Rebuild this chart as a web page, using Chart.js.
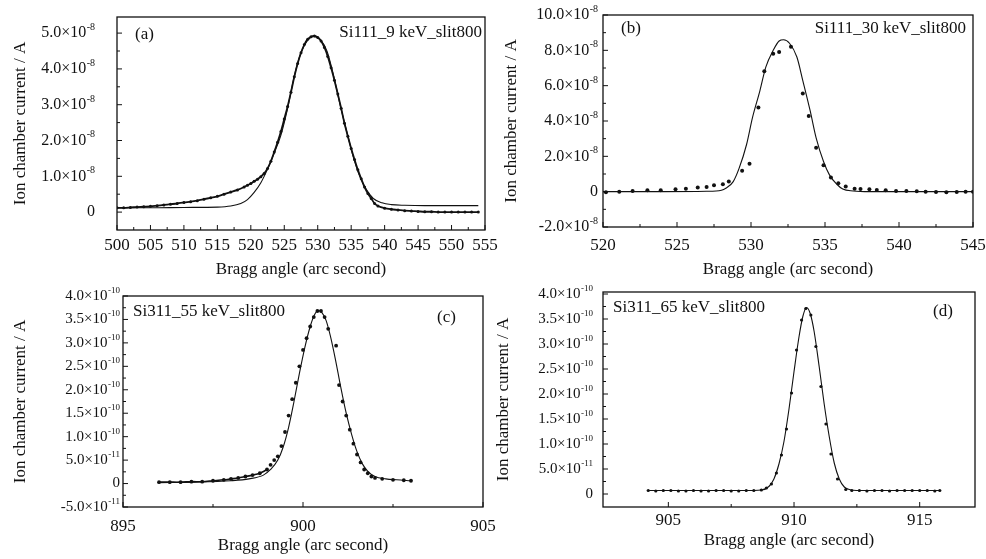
<!DOCTYPE html>
<html>
<head>
<meta charset="utf-8">
<script src="https://cdn.jsdelivr.net/npm/chart.js@4.4.1/dist/chart.umd.min.js"></script>
<style>
  html, body { margin: 0; padding: 0; background: #fff; }
  body { width: 986px; height: 559px; position: relative; overflow: hidden; }
  canvas { position: absolute; }
</style>
</head>
<body>
<canvas id="pa"></canvas>
<canvas id="pb"></canvas>
<canvas id="pc"></canvas>
<canvas id="pd"></canvas>
<script>
// ---------------- Panel (a): Si111_9 keV_slit800 (current in units of 1e-8 A) ----------------
const aXTicks = [500, 505, 510, 515, 520, 525, 530, 535, 540, 545, 550, 555];
const aXLabels = ["500", "505", "510", "515", "520", "525", "530", "535", "540", "545", "550", "555"];
const aYTicks = [0, 1, 2, 3, 4, 5];
const aYLabels = ["0", "1.0×10^-8", "2.0×10^-8", "3.0×10^-8", "4.0×10^-8", "5.0×10^-8"];
const aDataX = [500, 501, 502, 503, 504, 505, 506, 507, 508, 509, 510, 511, 512, 513, 514, 515, 516, 517, 518, 519, 519.5, 520, 520.5, 521, 521.5, 522, 522.5, 523, 523.5, 524, 524.5, 525, 525.5, 526, 526.5, 527, 527.5, 528, 528.5, 529, 529.5, 530, 530.5, 531, 531.5, 532, 532.5, 533, 533.5, 534, 534.5, 535, 535.5, 536, 536.5, 537, 537.5, 538, 538.5, 539, 540, 541, 542, 543, 544, 545, 546, 547, 548, 549, 550, 551, 552, 553, 554];
const aDataY = [0.12, 0.12, 0.13, 0.14, 0.15, 0.16, 0.18, 0.20, 0.22, 0.24, 0.27, 0.29, 0.32, 0.36, 0.40, 0.44, 0.50, 0.56, 0.62, 0.70, 0.75, 0.80, 0.86, 0.92, 0.99, 1.08, 1.22, 1.42, 1.68, 1.95, 2.25, 2.60, 2.95, 3.35, 3.78, 4.15, 4.45, 4.68, 4.83, 4.90, 4.92, 4.88, 4.78, 4.60, 4.35, 4.03, 3.68, 3.30, 2.90, 2.48, 2.12, 1.78, 1.47, 1.18, 0.93, 0.70, 0.52, 0.38, 0.24, 0.17, 0.11, 0.08, 0.06, 0.04, 0.03, 0.02, 0.01, 0.01, 0, 0, 0, 0, 0, 0, 0];
const aFitX = [500, 505, 510, 515, 517, 518.5, 519.5, 520.5, 521.5, 522.5, 523.5, 524.5, 525.5, 526.5, 527.5, 528.5, 529.4, 530.4, 531.4, 532.4, 533.4, 534.4, 535.3, 536.3, 537.3, 538.3, 539.6, 541, 543, 546, 550, 554];
const aFitY = [0.12, 0.12, 0.13, 0.14, 0.17, 0.24, 0.35, 0.55, 0.82, 1.20, 1.65, 2.15, 2.90, 3.80, 4.45, 4.80, 4.91, 4.82, 4.49, 3.79, 2.95, 2.20, 1.55, 0.99, 0.62, 0.38, 0.26, 0.21, 0.19, 0.18, 0.18, 0.18];

// ---------------- Panel (b): Si111_30 keV_slit800 (units of 1e-8 A) ----------------
const bXTicks = [520, 525, 530, 535, 540, 545];
const bXLabels = ["520", "525", "530", "535", "540", "545"];
const bYTicks = [-2, 0, 2, 4, 6, 8, 10];
const bYLabels = ["-2.0×10^-8", "0", "2.0×10^-8", "4.0×10^-8", "6.0×10^-8", "8.0×10^-8", "10.0×10^-8"];
const bDataX = [520.2, 521.1, 522, 523, 523.9, 524.9, 525.6, 526.4, 527, 527.5, 528.1, 528.5, 529.4, 529.9, 530.5, 530.9, 531.5, 531.9, 532.7, 533.5, 533.9, 534.4, 534.9, 535.4, 535.9, 536.4, 537, 537.4, 538, 538.5, 539.1, 539.8, 540.5, 541.2, 541.8, 542.5, 543.2, 543.9, 544.5, 545];
const bDataY = [-0.04, 0, 0.04, 0.08, 0.08, 0.13, 0.17, 0.23, 0.27, 0.36, 0.42, 0.57, 1.18, 1.58, 4.76, 6.82, 7.81, 7.90, 8.20, 5.56, 4.29, 2.48, 1.49, 0.80, 0.48, 0.29, 0.17, 0.15, 0.13, 0.10, 0.08, 0.04, 0.04, 0.02, 0, -0.02, -0.04, -0.02, 0, 0];
const bFitX = [520, 524, 527, 528, 528.3, 528.8, 529.2, 529.7, 530.1, 530.6, 531.0, 531.5, 531.9, 532.2, 532.6, 533.1, 533.5, 534.0, 534.4, 534.9, 535.3, 535.8, 536.2, 536.9, 538, 541, 545];
const bFitY = [0, 0, 0.02, 0.08, 0.19, 0.57, 1.33, 2.67, 4.19, 5.71, 7.05, 8.00, 8.53, 8.60, 8.40, 7.62, 6.29, 4.57, 3.05, 1.71, 0.95, 0.42, 0.15, 0.04, 0, 0, 0];

// ---------------- Panel (c): Si311_55 keV_slit800 (units of 1e-10 A) ----------------
const cXTicks = [895, 900, 905];
const cXLabels = ["895", "900", "905"];
const cYTicks = [-0.5, 0, 0.5, 1, 1.5, 2, 2.5, 3, 3.5, 4];
const cYLabels = ["-5.0×10^-11", "0", "5.0×10^-11", "1.0×10^-10", "1.5×10^-10", "2.0×10^-10", "2.5×10^-10", "3.0×10^-10", "3.5×10^-10", "4.0×10^-10"];
const cDataX = [896, 896.3, 896.6, 896.9, 897.2, 897.5, 897.8, 898.0, 898.2, 898.4, 898.6, 898.8, 899.0, 899.1, 899.2, 899.3, 899.4, 899.5, 899.6, 899.7, 899.8, 899.9, 900.0, 900.1, 900.2, 900.3, 900.4, 900.5, 900.6, 900.7, 900.92, 901.0, 901.1, 901.2, 901.3, 901.4, 901.5, 901.6, 901.7, 901.8, 901.9, 902.0, 902.2, 902.5, 902.8, 903];
const cDataY = [0.03, 0.03, 0.03, 0.04, 0.04, 0.06, 0.08, 0.10, 0.12, 0.15, 0.18, 0.22, 0.30, 0.40, 0.50, 0.58, 0.80, 1.10, 1.45, 1.80, 2.15, 2.50, 2.85, 3.10, 3.35, 3.55, 3.68, 3.68, 3.55, 3.30, 2.94, 2.10, 1.75, 1.45, 1.15, 0.85, 0.62, 0.45, 0.30, 0.22, 0.15, 0.12, 0.10, 0.08, 0.07, 0.06];
const cFitX = [896, 897, 898, 898.5, 898.9, 899.1, 899.3, 899.45, 899.6, 899.75, 899.9, 900.05, 900.2, 900.32, 900.42, 900.52, 900.64, 900.76, 900.9, 901.05, 901.2, 901.35, 901.5, 901.65, 901.8, 902, 902.3, 902.6, 903];
const cFitY = [0.02, 0.03, 0.06, 0.10, 0.18, 0.30, 0.50, 0.78, 1.20, 1.75, 2.35, 2.90, 3.35, 3.60, 3.69, 3.65, 3.48, 3.15, 2.65, 2.05, 1.50, 1.05, 0.68, 0.42, 0.26, 0.15, 0.10, 0.08, 0.06];

// ---------------- Panel (d): Si311_65 keV_slit800 (units of 1e-10 A) ----------------
const dXTicks = [905, 910, 915];
const dXLabels = ["905", "910", "915"];
const dYTicks = [0, 0.5, 1, 1.5, 2, 2.5, 3, 3.5, 4];
const dYLabels = ["0", "5.0×10^-11", "1.0×10^-10", "1.5×10^-10", "2.0×10^-10", "2.5×10^-10", "3.0×10^-10", "3.5×10^-10", "4.0×10^-10"];
const dDataX = [904.2, 904.5, 904.8, 905.1, 905.4, 905.7, 906.0, 906.3, 906.6, 906.9, 907.2, 907.5, 907.8, 908.1, 908.4, 908.7, 908.9, 909.1, 909.3, 909.5, 909.7, 909.9, 910.1, 910.3, 910.47, 910.67, 910.87, 911.07, 911.27, 911.47, 911.73, 912.06, 912.3, 912.6, 912.9, 913.2, 913.5, 913.8, 914.1, 914.4, 914.7, 915.0, 915.3, 915.6, 915.8];
const dDataY = [0.07, 0.06, 0.07, 0.07, 0.06, 0.06, 0.07, 0.06, 0.06, 0.07, 0.07, 0.06, 0.06, 0.07, 0.07, 0.08, 0.12, 0.20, 0.42, 0.78, 1.30, 2.02, 2.88, 3.48, 3.71, 3.58, 2.95, 2.15, 1.40, 0.80, 0.30, 0.09, 0.07, 0.07, 0.06, 0.07, 0.07, 0.06, 0.07, 0.07, 0.07, 0.07, 0.07, 0.06, 0.07];
const dFitX = [904.2, 906, 908, 908.7, 909.0, 909.2, 909.4, 909.6, 909.8, 910.0, 910.2, 910.35, 910.5, 910.65, 910.8, 911.0, 911.2, 911.4, 911.6, 911.8, 912.0, 912.2, 912.6, 914, 915.8];
const dFitY = [0.07, 0.07, 0.07, 0.08, 0.15, 0.30, 0.60, 1.05, 1.70, 2.45, 3.15, 3.55, 3.73, 3.60, 3.25, 2.55, 1.80, 1.15, 0.62, 0.30, 0.14, 0.09, 0.07, 0.07, 0.07];

const yTitle = "Ion chamber current / A";
const xTitle = "Bragg angle (arc second)";
const INK = "#111";
const SERIF = "'Liberation Serif', 'Times New Roman', serif";

// frame, inward ticks, y tick labels with superscript exponents, panel notes
const framePlugin = {
  id: 'framePlugin',
  afterDraw(chart) {
    const o = chart.options.plugins.framePlugin;
    const {ctx, chartArea: a, scales: {x, y}} = chart;
    ctx.save();
    ctx.strokeStyle = INK;
    ctx.lineWidth = 1.3;
    ctx.strokeRect(a.left, a.top, a.right - a.left, a.bottom - a.top);
    ctx.lineWidth = 1;
    const yv = y.ticks.map(t => t.value);
    const xv = x.ticks.map(t => t.value);
    ctx.beginPath();
    yv.forEach((v, i) => {
      const p = y.getPixelForValue(v);
      ctx.moveTo(a.left, p); ctx.lineTo(a.left + 5, p);
      if (i < yv.length - 1) {
        const q = y.getPixelForValue((v + yv[i + 1]) / 2);
        ctx.moveTo(a.left, q); ctx.lineTo(a.left + 3, q);
      }
    });
    xv.forEach((v, i) => {
      const p = x.getPixelForValue(v);
      ctx.moveTo(p, a.bottom); ctx.lineTo(p, a.bottom - 5);
      if (i < xv.length - 1) {
        const q = x.getPixelForValue((v + xv[i + 1]) / 2);
        ctx.moveTo(q, a.bottom); ctx.lineTo(q, a.bottom - 3);
      }
    });
    ctx.stroke();
    ctx.fillStyle = INK;
    const S = o.ySize, E = Math.round(S * 0.62);
    const right = a.left - o.yPad;
    ctx.textBaseline = 'middle';
    ctx.textAlign = 'left';
    yv.forEach((v, i) => {
      const p = y.getPixelForValue(v);
      const parts = o.yLabels[i].split('^');
      ctx.font = S + "px " + SERIF;
      const w1 = ctx.measureText(parts[0]).width;
      let w2 = 0;
      if (parts[1]) { ctx.font = E + "px " + SERIF; w2 = ctx.measureText(parts[1]).width; }
      const x0 = right - w1 - w2 - (parts[1] ? 0.5 : 0);
      ctx.font = S + "px " + SERIF;
      ctx.fillText(parts[0], x0, p);
      if (parts[1]) {
        ctx.font = E + "px " + SERIF;
        ctx.fillText(parts[1], x0 + w1 + 0.5, p - S * 0.36);
      }
    });
    (o.notes || []).forEach(n => {
      ctx.font = n.size + "px " + SERIF;
      ctx.textAlign = n.align;
      ctx.fillText(n.text, n.x, n.y);
    });
    ctx.restore();
  }
};

function pts(xs, ys) { return xs.map((v, i) => ({x: v, y: ys[i]})); }

function makePanel(id, c) {
  const cv = document.getElementById(id);
  cv.width = c.w; cv.height = c.h;
  cv.style.left = c.left + "px"; cv.style.top = c.top + "px";
  cv.style.width = c.w + "px"; cv.style.height = c.h + "px";
  const lineUntil = (c.lineUntil === undefined) ? Infinity : c.lineUntil;
  new Chart(cv, {
    type: 'scatter',
    data: {
      datasets: [
        {
          label: 'measured', data: pts(c.dx, c.dy),
          showLine: c.dataLine, borderColor: INK, borderWidth: c.dataLineWidth || 1.6,
          segment: { borderColor: s => (s.p1.parsed.x > lineUntil ? 'rgba(0,0,0,0)' : INK) },
          backgroundColor: INK, pointRadius: c.pr, pointBorderWidth: 0, pointBackgroundColor: INK,
          tension: 0.3, order: 2
        },
        {
          label: 'fit', data: pts(c.fx, c.fy),
          showLine: true, borderColor: INK, borderWidth: c.fitWidth || 1.1,
          pointRadius: 0, cubicInterpolationMode: 'monotone', order: 1
        }
      ]
    },
    options: {
      responsive: false, animation: false, events: [],
      layout: { padding: { left: 0, top: c.padTop, right: c.padRight, bottom: 0 } },
      plugins: {
        legend: { display: false }, tooltip: { enabled: false },
        framePlugin: { notes: c.notes, yLabels: c.yLabels, ySize: c.yTickSize, yPad: c.yTickPad }
      },
      scales: {
        x: {
          type: 'linear', min: c.xMin, max: c.xMax,
          grid: { display: false, drawTicks: false }, border: { display: false },
          afterBuildTicks: s => { s.ticks = c.xTicks.map(v => ({value: v})); },
          afterFit: s => { s.height = c.xHeight; s.paddingLeft = 0; s.paddingRight = 0; },
          ticks: {
            autoSkip: false, maxRotation: 0, color: INK, padding: c.xTickPad,
            font: { family: SERIF, size: c.xTickSize },
            callback: (v, i) => c.xLabels[i]
          },
          title: { display: true, text: xTitle, color: INK, padding: { top: 0, bottom: c.xTitlePad },
                   font: { family: SERIF, size: 17 } }
        },
        y: {
          type: 'linear', min: c.yMin, max: c.yMax,
          grid: { display: false, drawTicks: false }, border: { display: false },
          afterBuildTicks: s => { s.ticks = c.yTicks.map(v => ({value: v})); },
          afterFit: s => { s.width = c.yWidth; s.paddingTop = 0; s.paddingBottom = 0; },
          ticks: { display: false, autoSkip: false },
          title: { display: true, text: yTitle, color: INK, padding: { top: c.yTitlePad, bottom: 0 },
                   font: { family: SERIF, size: 17 } }
        }
      }
    },
    plugins: [framePlugin]
  });
}

makePanel('pa', {
  left: 0, top: 0, w: 520, h: 280, padTop: 17, padRight: 35, yWidth: 117, xHeight: 50,
  xMin: 500, xMax: 555, yMin: -0.5, yMax: 5.45,
  xTicks: aXTicks, xLabels: aXLabels, yTicks: aYTicks, yLabels: aYLabels,
  dx: aDataX, dy: aDataY, fx: aFitX, fy: aFitY, dataLine: true, dataLineWidth: 1.8, pr: 1.5,
  xTickPad: 5, yTickPad: 22, xTitlePad: 0, yTitlePad: 10, xTickSize: 17, yTickSize: 16,
  notes: [
    { text: "(a)", x: 135, y: 35, align: 'left', size: 17 },
    { text: "Si111_9 keV_slit800", x: 482, y: 33, align: 'right', size: 17 }
  ]
});

makePanel('pb', {
  left: 493, top: 0, w: 493, h: 280, padTop: 15, padRight: 13, yWidth: 110, xHeight: 53,
  xMin: 520, xMax: 545, yMin: -2, yMax: 10,
  xTicks: bXTicks, xLabels: bXLabels, yTicks: bYTicks, yLabels: bYLabels,
  dx: bDataX, dy: bDataY, fx: bFitX, fy: bFitY, dataLine: false, pr: 2,
  xTickPad: 8, yTickPad: 5, xTitlePad: 0, yTitlePad: 8, xTickSize: 17, yTickSize: 16,
  notes: [
    { text: "(b)", x: 128, y: 29, align: 'left', size: 17 },
    { text: "Si111_30 keV_slit800", x: 473, y: 29, align: 'right', size: 17 }
  ]
});

makePanel('pc', {
  left: 0, top: 279, w: 510, h: 280, padTop: 17, padRight: 27, yWidth: 123, xHeight: 52,
  xMin: 895, xMax: 905, yMin: -0.5, yMax: 4,
  xTicks: cXTicks, xLabels: cXLabels, yTicks: cYTicks, yLabels: cYLabels,
  dx: cDataX, dy: cDataY, fx: cFitX, fy: cFitY, dataLine: true, dataLineWidth: 1.6, pr: 1.9, lineUntil: 899.0,
  xTickPad: 9, yTickPad: 3, xTitlePad: 3, yTitlePad: 10, xTickSize: 17, yTickSize: 15,
  notes: [
    { text: "Si311_55 keV_slit800", x: 133, y: 33, align: 'left', size: 17 },
    { text: "(c)", x: 437, y: 39, align: 'left', size: 17 }
  ]
});

makePanel('pd', {
  left: 493, top: 279, w: 493, h: 280, padTop: 13, padRight: 11, yWidth: 110, xHeight: 52,
  xMin: 902.4, xMax: 917.2, yMin: -0.26, yMax: 4.04,
  xTicks: dXTicks, xLabels: dXLabels, yTicks: dYTicks, yLabels: dYLabels,
  dx: dDataX, dy: dDataY, fx: dFitX, fy: dFitY, dataLine: false, pr: 1.6,
  xTickPad: 3, yTickPad: 10, xTitlePad: 8, yTitlePad: 0, xTickSize: 17, yTickSize: 15,
  notes: [
    { text: "Si311_65 keV_slit800", x: 120, y: 29, align: 'left', size: 17 },
    { text: "(d)", x: 440, y: 33, align: 'left', size: 17 }
  ]
});
</script>
</body>
</html>
